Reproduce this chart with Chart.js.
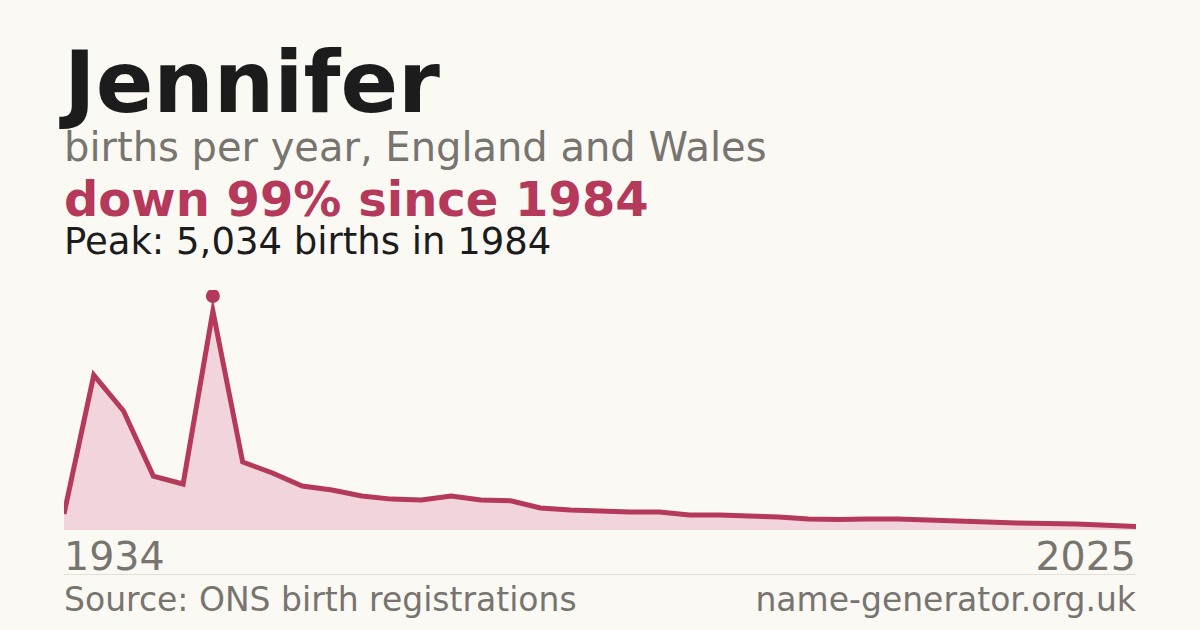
<!DOCTYPE html>
<html><head><meta charset="utf-8">
<script src="https://cdn.jsdelivr.net/npm/chart.js@4"></script>
<style>
body{margin:0;width:1200px;height:630px;background:#faf9f4;font-family:"DejaVu Sans",sans-serif;position:relative;overflow:hidden}
.t{position:absolute;left:64px;white-space:nowrap;line-height:1}
#w{position:absolute;left:64px;top:290px;width:1072px;height:240px}
</style></head><body>
<div class="t" style="top:40px;font-size:85px;font-weight:bold;color:#1c1c1c">Jennifer</div>
<div class="t" style="top:127px;font-size:40px;color:#787470">births per year, England and Wales</div>
<div class="t" style="top:175px;font-size:48px;font-weight:bold;color:#b5395a">down 99% since 1984</div>
<div class="t" style="top:223px;font-size:37px;color:#1c1c1c">Peak: 5,034 births in 1984</div>
<div id="w"><canvas id="c"></canvas></div>
<div class="t" style="top:537px;font-size:39.5px;color:#787470">1934</div>
<div class="t" style="top:537px;left:auto;right:64px;font-size:39.5px;color:#787470">2025</div>
<div style="position:absolute;left:64px;top:574px;width:1072px;height:1px;background:#e2dfd8"></div>
<div class="t" style="top:583px;font-size:33px;color:#787470">Source: ONS birth registrations</div>
<div class="t" style="top:583px;left:auto;right:64px;font-size:33px;color:#787470">name-generator.org.uk</div>
<script>
const years=[1934,1944,1954,1964,1974,1984,1995,1996,1997,1998,1999,2000,2001,2002,2003,2004,2005,2006,2007,2008,2009,2010,2011,2012,2013,2014,2015,2016,2017,2018,2019,2020,2021,2022,2023,2024,2025];
const births=[370,3560,2735,1240,1057,5034,1563,1310,1010,920,780,710,690,780,690,670,505,460,437,414,414,345,345,320,300,253,240,253,253,230,207,184,161,150,138,110,80];
const peakIndex=5;
const peakDot={id:'peakDot',afterDatasetsDraw(ch){const p=ch.getDatasetMeta(0).data[peakIndex];const x=ch.ctx;x.save();x.fillStyle='#b5395a';x.beginPath();x.arc(p.x,p.y-15,7,0,Math.PI*2);x.fill();x.restore();}};
new Chart(document.getElementById('c'),{type:'line',
data:{labels:years,datasets:[{data:births,borderColor:'#b5395a',borderWidth:5,backgroundColor:'#f2d5dc',fill:'origin',pointRadius:0,tension:0,clip:false}]},
options:{responsive:true,maintainAspectRatio:false,animation:false,layout:{padding:0},
plugins:{legend:{display:false},tooltip:{enabled:false}},
scales:{x:{display:false,offset:false},y:{display:false,min:0,max:5517}}},
plugins:[peakDot]});
</script></body></html>
